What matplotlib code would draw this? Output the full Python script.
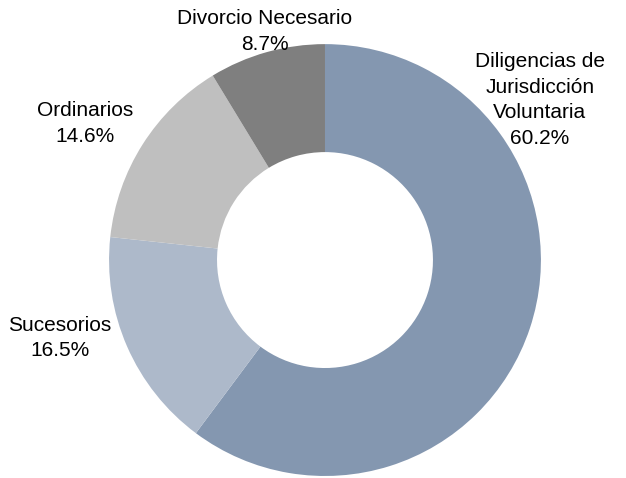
import matplotlib
matplotlib.use("Agg")
import matplotlib.pyplot as plt

categories = ["Diligencias de\nJurisdicción\nVoluntaria", "Sucesorios", "Ordinarios", "Divorcio Necesario"]
shares = [60.2, 16.5, 14.6, 8.7]
colors = ["#8497B0", "#ADB9CA", "#BFBFBF", "#7F7F7F"]
# label centres (data units, radius = 1)
label_pos = [(0.995, 0.741), (-1.227, -0.361), (-1.111, 0.634), (-0.278, 1.060)]

plt.rcParams["font.family"] = ["Liberation Sans", "DejaVu Sans"]

fig = plt.figure(figsize=(6.26, 4.78), dpi=100)
ax = fig.add_axes([0, 0, 1, 1])
ax.pie(shares, colors=colors, startangle=90, counterclock=False,
       radius=1.0, wedgeprops=dict(width=0.5, edgecolor="none"))
for name, val, (x, y) in zip(categories, shares, label_pos):
    ax.text(x, y, f"{name}\n{val:.1f}%", ha="center", va="center",
            fontsize=15, linespacing=1.45)
ax.set_xlim(-1.505, 1.394)
ax.set_ylim(-1.009, 1.204)
ax.set_aspect("equal")
ax.axis("off")
fig.savefig("out.png", dpi=100)
